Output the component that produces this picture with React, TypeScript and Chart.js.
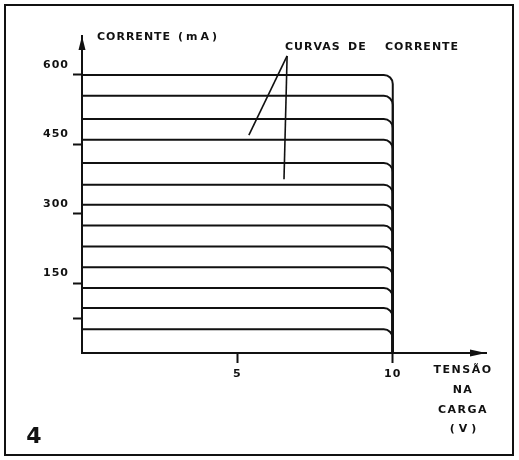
import { useEffect, useRef } from "react";
import { Chart, registerables } from "chart.js";

Chart.register(...registerables);

// ---- data ----
const currentLevels = [600, 555, 505, 460, 410, 363, 320, 275, 230, 185, 140, 97, 51]; // mA, one flat curve each
const saturationVoltage = 10; // V, where every curve drops to zero
const xAxisMax = 13;
const yAxisMax = 684;
const yTickValues = [75, 150, 300, 450, 600];
const yTickLabels = ["", "150", "300", "450", "600"];
const xTickValues = [5, 10];
const xTickLabels = ["5", "10"];
// pointer lines from "CURVAS DE CORRENTE" (data coordinates: V, mA)
const pointerStart = { x: 6.6, y: 641 };
const pointerEnds = [
  { x: 5.37, y: 470 },
  { x: 6.5, y: 375 },
];

const INK = "#111";
const FONT = "'DejaVu Sans', sans-serif";
const CORNER_RADIUS = 9;

const roundedCurves = {
  id: "roundedCurves",
  beforeDatasetDraw(chart: any, args: any) {
    const pts = args.meta.data;
    const ds = chart.data.datasets[args.index];
    if (!pts || pts.length < 2) return;
    const ctx = chart.ctx;
    ctx.save();
    ctx.strokeStyle = ds.borderColor;
    ctx.lineWidth = ds.borderWidth;
    ctx.lineJoin = "round";
    ctx.beginPath();
    ctx.moveTo(pts[0].x, pts[0].y);
    for (let i = 1; i < pts.length - 1; i++) {
      ctx.arcTo(pts[i].x, pts[i].y, pts[i + 1].x, pts[i + 1].y, CORNER_RADIUS);
    }
    const last = pts[pts.length - 1];
    ctx.lineTo(last.x, last.y);
    ctx.stroke();
    ctx.restore();
    return false;
  },
};

const decorations = {
  id: "decorations",
  beforeDraw(chart: any) {
    const ctx = chart.ctx;
    ctx.save();
    ctx.fillStyle = "#fff";
    ctx.fillRect(0, 0, chart.width, chart.height);
    ctx.strokeStyle = INK;
    ctx.lineWidth = 2;
    ctx.strokeRect(5, 5, 508, 450);
    ctx.restore();
    ctx.letterSpacing = "1px";
  },
  afterDraw(chart: any) {
    const ctx = chart.ctx;
    const { left, top, right, bottom } = chart.chartArea;
    const xs = chart.scales.x;
    const ys = chart.scales.y;
    ctx.save();
    ctx.fillStyle = INK;
    ctx.strokeStyle = INK;
    // arrows
    ctx.beginPath();
    ctx.moveTo(left, top);
    ctx.lineTo(left - 3.5, top + 14);
    ctx.lineTo(left + 3.5, top + 14);
    ctx.closePath();
    ctx.fill();
    ctx.beginPath();
    ctx.moveTo(right, bottom);
    ctx.lineTo(right - 16, bottom - 3.5);
    ctx.lineTo(right - 16, bottom + 3.5);
    ctx.closePath();
    ctx.fill();
    // pointer lines
    ctx.lineWidth = 1.6;
    const sx = xs.getPixelForValue(pointerStart.x);
    const sy = ys.getPixelForValue(pointerStart.y);
    for (const p of pointerEnds) {
      ctx.beginPath();
      ctx.moveTo(sx, sy);
      ctx.lineTo(xs.getPixelForValue(p.x), ys.getPixelForValue(p.y));
      ctx.stroke();
    }
    // texts
    ctx.font = `bold 11px ${FONT}`;
    ctx.textBaseline = "alphabetic";
    ctx.textAlign = "left";
    ctx.letterSpacing = "1px";
    ctx.fillText("CORRENTE", 97, 40);
    ctx.letterSpacing = "3px";
    ctx.fillText("(mA)", 178, 40);
    ctx.letterSpacing = "1px";
    ctx.fillText("CURVAS", 285, 50);
    ctx.fillText("DE", 348, 50);
    ctx.fillText("CORRENTE", 385, 50);
    ctx.textAlign = "center";
    ctx.letterSpacing = "1.5px";
    ctx.fillText("TENSÃO", 463, 373);
    ctx.fillText("NA", 463, 393);
    ctx.fillText("CARGA", 463, 413);
    ctx.letterSpacing = "4px";
    ctx.fillText("(V)", 465, 432);
    ctx.letterSpacing = "0px";
    ctx.font = `bold 22px ${FONT}`;
    ctx.fillText("4", 34, 443);
    ctx.restore();
    ctx.letterSpacing = "0px";
  },
};

export default function App() {
  const ref = useRef<HTMLCanvasElement | null>(null);

  useEffect(() => {
    if (!ref.current) return;
    const datasets = currentLevels.map((level) => ({
      data: [
        { x: 0, y: level },
        { x: saturationVoltage, y: level },
        { x: saturationVoltage, y: 0 },
      ],
      borderColor: INK,
      borderWidth: 2,
      pointRadius: 0,
      showLine: true,
      fill: false,
      tension: 0,
    }));

    const chart = new Chart(ref.current, {
      type: "scatter",
      data: { datasets },
      options: {
        animation: false,
        responsive: false,
        events: [],
        layout: { padding: { left: 0, top: 36, right: 33, bottom: 0 } },
        plugins: { legend: { display: false }, tooltip: { enabled: false } },
        scales: {
          x: {
            type: "linear",
            min: 0,
            max: xAxisMax,
            afterFit: (s: any) => {
              s.height = 107;
            },
            afterBuildTicks: (s: any) => {
              s.ticks = xTickValues.map((v) => ({ value: v }));
            },
            ticks: {
              color: INK,
              padding: 5,
              maxRotation: 0,
              font: { family: FONT, size: 11, weight: "bold" },
              callback: (v: any) => {
                const i = xTickValues.indexOf(Number(v));
                return i >= 0 ? xTickLabels[i] : "";
              },
            },
            grid: {
              display: true,
              drawOnChartArea: false,
              drawTicks: true,
              tickLength: 10,
              tickWidth: 2,
              color: INK,
            },
            border: { display: true, color: INK, width: 2 },
          },
          y: {
            type: "linear",
            min: 0,
            max: yAxisMax,
            afterFit: (s: any) => {
              s.width = 82;
            },
            afterBuildTicks: (s: any) => {
              s.ticks = yTickValues.map((v) => ({ value: v }));
            },
            ticks: {
              color: INK,
              padding: 4,
              labelOffset: -10,
              font: { family: FONT, size: 11, weight: "bold" },
              callback: (v: any) => {
                const i = yTickValues.indexOf(Number(v));
                return i >= 0 ? yTickLabels[i] : "";
              },
            },
            grid: {
              display: true,
              drawOnChartArea: false,
              drawTicks: true,
              tickLength: 9,
              tickWidth: 2,
              color: INK,
            },
            border: { display: true, color: INK, width: 2 },
          },
        },
      },
      plugins: [roundedCurves, decorations],
    } as any);

    return () => chart.destroy();
  }, []);

  return (
    <div style={{ position: "absolute", left: 0, top: 0, width: 519, height: 460 }}>
      <canvas ref={ref} width={519} height={460} style={{ display: "block", width: 519, height: 460 }} />
    </div>
  );
}
